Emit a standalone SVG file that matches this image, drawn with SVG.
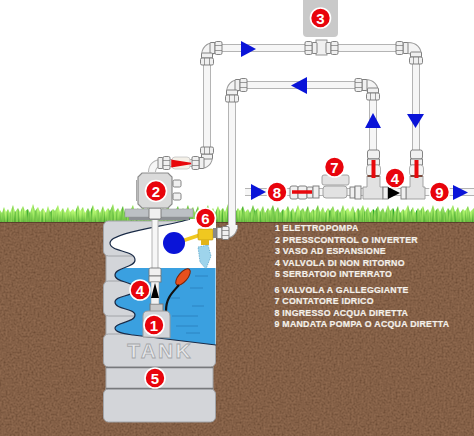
<svg xmlns="http://www.w3.org/2000/svg" width="474" height="436" viewBox="0 0 474 436">
<style>
.po{fill:none;stroke:#b4b4b4;stroke-width:8}
.pi{fill:none;stroke:#f6f6f6;stroke-width:6}
.thin{fill:none;stroke:#b4b4b4;stroke-width:7}
.thinIn{fill:none;stroke:#f6f6f6;stroke-width:5}
.elbow{fill:none;stroke:#9a9a9a;stroke-width:12}
.elbowIn{fill:none;stroke:#f4f4f4;stroke-width:10}
.arrow{fill:#0a14d8}
.badge circle{fill:#e8040c;stroke:#fff;stroke-width:1.6}
.badge text{font:bold 15px "Liberation Sans",Arial,sans-serif;fill:#fff;text-anchor:middle}
.nut{fill:#f0f0f0;stroke:#767676;stroke-width:.9}
.band{fill:#d3d5d9;stroke:#a2a4a8;stroke-width:1}
.legend text{font:bold 8.8px "Liberation Sans",Arial,sans-serif;fill:#f4f0ea;stroke:#f4f0ea;stroke-width:.2;letter-spacing:.25px}
.red{stroke:#e8080c;fill:none}
.body{fill:#e2e2e2;stroke:#9a9a9a;stroke-width:.9}
</style>
<defs>
<filter id="soilTex" x="0" y="0" width="100%" height="100%">
<feTurbulence type="fractalNoise" baseFrequency="0.5" numOctaves="3" seed="4"/>
<feColorMatrix values="0 0 0 .95 -.02  0 0 0 .62 -.02  0 0 0 .42 -.02  0 0 0 0 1"/>
</filter>
<filter id="grassTex" x="0" y="0" width="100%" height="100%">
<feTurbulence type="fractalNoise" baseFrequency="0.55 0.05" numOctaves="2" seed="9"/>
<feColorMatrix values="0 0 0 .9 -.12  0 0 0 1.1 .22  0 0 0 .3 -.02  0 0 0 0 1"/>
</filter>
<linearGradient id="grassFade" x1="0" y1="0" x2="0" y2="1">
<stop offset="0" stop-color="#b4e878" stop-opacity=".6"/>
<stop offset=".5" stop-color="#5cc02a" stop-opacity=".1"/>
<stop offset="1" stop-color="#2f8a16" stop-opacity=".45"/>
</linearGradient>
<clipPath id="bladeClip">
<path d="M0 224V210L2 213 4 207 6 212 8 209 10 213 13 205 15 212 18 208 20 212 23 206 25 211 28 209 30 213 33 204 35 211 38 207 40 212 43 208 46 213 48 206 50 212 53 209 55 211 58 205 60 212 63 208 65 213 68 207 70 212 73 209 75 212 78 205 80 211 83 207 85 213 88 208 90 212 93 205 95 211 98 209 100 213 103 206 105 212 108 208 110 211 113 204 115 212 118 208 120 212 123 206 125 213 128 209 130 211 133 205 135 212 138 208 140 213 143 206 145 211 148 208 150 212 153 205 155 211 158 207 160 213 163 208 165 212 168 205 170 212 173 209 175 211 178 206 180 213 183 208 185 212 188 205 190 211 193 207 195 213 198 206 200 212 203 208 205 211 208 205 210 212 213 208 215 213 218 206 220 211 223 208 225 212 228 204 230 212 233 207 235 213 238 208 240 211 243 206 245 212 248 209 250 213 253 205 255 211 258 208 260 212 263 206 265 213 268 208 270 211 273 205 275 212 278 207 280 213 283 209 285 211 288 206 290 212 293 208 295 213 298 205 300 211 303 208 305 212 308 206 310 213 313 209 315 211 318 205 320 212 323 207 325 213 328 208 330 211 333 206 335 212 338 209 340 213 343 205 345 211 348 208 350 212 353 206 355 213 358 208 360 211 363 205 365 212 368 207 370 213 373 209 375 211 378 206 380 212 383 208 385 213 388 205 390 211 393 208 395 212 398 206 400 213 403 209 405 211 408 205 410 212 413 207 415 213 418 208 420 211 423 206 425 212 428 209 430 213 433 205 435 211 438 208 440 212 443 206 445 213 448 208 450 211 453 205 455 212 458 207 460 213 463 209 465 211 468 206 470 212 474 208V224Z"/>
</clipPath>
<g id="nut">
<rect class="nut" x="-6" y="-5.500" width="5" height="11" rx="1"/>
<rect class="nut" x="-1" y="-6.500" width="7" height="13" rx="1.500"/>
<path d="M-1-2.500H6M-1 2.500H6" stroke="#767676" stroke-width=".7" fill="none"/>
</g>
<g id="handle">
<rect class="nut" x="-6" y="-8" width="12" height="9" rx="2"/>
<rect class="nut" x="-6" y="1" width="12" height="6"/>
<rect x="-7" y="7" width="14" height="11" rx="3" fill="#f3f3f3" stroke="#a0a0a0" stroke-width=".8"/>
<path d="M-6 18H6" stroke="#7a4a3c" stroke-width="2"/>
<path class="red" d="M0 2V20" stroke-width="4"/>
</g>
<path id="route" d="M152 172C152 166 156 163 162 163H200Q207 163 207 156V56Q207 48 215 48H408Q416 48 416 56V186M373 186V93Q373 85 365 85H240Q232 85 232 93V225Q232 233 224 233H213M245 192H474"/>
<path id="drop" d="M155 213V275"/>
<path id="elbows" d="M207 60V56Q207 48 215 48H219M404 48H408Q416 48 416 56V60M232 97V93Q232 85 240 85H244M361 85H365Q373 85 373 93V97M207 151V156Q207 163 200 163H196M232 229V225Q232 233 224 233"/>
</defs>

<!-- ground -->
<rect x="0" y="221" width="474" height="215" fill="#704a31"/>
<rect id="soil" x="0" y="221" width="474" height="215" filter="url(#soilTex)" opacity=".3"/>
<rect x="0" y="221" width="474" height="2" fill="#4a3322" opacity=".7"/>
<g clip-path="url(#bladeClip)">
<rect x="0" y="200" width="474" height="22" filter="url(#grassTex)"/>
<rect x="0" y="200" width="474" height="22" fill="url(#grassFade)"/>
</g>

<!-- tank -->
<g id="tank">
<rect class="band" x="106" y="255" width="107" height="28"/>
<rect class="band" x="106" y="314" width="107" height="21"/>
<rect class="band" x="106" y="367" width="107" height="23"/>
<rect class="band" x="103.500" y="221" width="112" height="35" rx="5"/>
<rect class="band" x="103.500" y="281" width="112" height="35" rx="5"/>
<rect class="band" x="103.500" y="334" width="112" height="33" rx="5"/>
<rect class="band" x="103.500" y="389" width="112" height="33" rx="5"/>
<path d="M106 367.500H213M106 388.500H213" stroke="#77797c" stroke-width="1.500"/>
<path d="M190 219C170 226 110 232 110 243C110 252 135 250 135 260C135 268 115 267 115 275C115 283 135 281 135 289C135 297 115 295 115 302C115 310 135 308 135 315C135 323 115 322 115 328C115 333 126 334 133 335L216 345V219Z" fill="#fff"/>
<path d="M115 275C115 272 119 270 124 268H215.500V345L133 335C126 334 115 333 115 328C115 322 135 323 135 315C135 308 115 310 115 302C115 295 135 297 135 289C135 281 115 283 115 275Z" fill="#3aa0e0"/>
<path d="M190 219C170 226 110 232 110 243C110 252 135 250 135 260C135 268 115 267 115 275C115 283 135 281 135 289C135 297 115 295 115 302C115 310 135 308 135 315C135 323 115 322 115 328C115 333 126 334 133 335L216 345" fill="none" stroke="#1a2b47" stroke-width="1.200"/>
<path d="M195 276H208M190 288H203M170 298H180M192 306H204M172 316H198M176 326H198M186 333H200" stroke="#2a7fbb" stroke-width=".8" fill="none"/>
<text x="160" y="358" font-family="Liberation Sans,Arial,sans-serif" font-weight="bold" font-size="21" letter-spacing="2.200" text-anchor="middle" fill="#e6e7e9" stroke="#a4a6a9" stroke-width=".8">TANK</text>
</g>

<!-- pipe runs -->
<g id="connectors">
<use href="#route" class="po"/>
<use href="#route" class="pi"/>
<use href="#drop" class="thin"/>
<use href="#drop" class="thinIn"/>
<use href="#elbows" class="elbow"/>
<use href="#elbows" class="elbowIn"/>
</g>

<!-- flow direction -->
<g id="flow-arrows">
<path class="arrow" d="M241 41L256 49 241 57Z"/>
<path class="arrow" d="M307 77V94L291 85.500Z"/>
<path class="arrow" d="M365 128L373 113 381 128Z"/>
<path class="arrow" d="M407 114H424L415.500 128Z"/>
<path class="arrow" d="M251 184L266 192 251 200Z"/>
<path class="arrow" d="M453 185L468 192.500 453 200Z"/>
</g>

<!-- fittings on the upper runs -->
<g id="fittings">
<use href="#nut" transform="translate(216 48)"/>
<use href="#nut" transform="translate(207 59) rotate(90)"/>
<use href="#nut" transform="translate(241 85)"/>
<use href="#nut" transform="translate(232 96) rotate(90)"/>
<use href="#nut" transform="translate(402 48) rotate(180)"/>
<use href="#nut" transform="translate(416 58) rotate(90)"/>
<use href="#nut" transform="translate(361 85) rotate(180)"/>
<use href="#nut" transform="translate(373 94) rotate(90)"/>
<use href="#nut" transform="translate(207 153) rotate(-90)"/>
<use href="#nut" transform="translate(198 163) rotate(180)"/>
<use href="#nut" transform="translate(164 163)"/>
</g>

<g id="valve-suction">
<rect x="172" y="157" width="18" height="12" rx="3" fill="#f4f0e8" stroke="#c4c4c4" stroke-width=".8"/>
<path d="M172 160.500L191 163.500 172 166.500Z" fill="#e8080c" stroke="#e8080c" stroke-width="1.500"/>
</g>

<g id="expansion-vessel">
<rect x="303" y="-4" width="35" height="41" rx="4" fill="#c9c9c9"/>
<rect x="316" y="40" width="11" height="15" fill="#f0f0f0" stroke="#8a8a8a" stroke-width=".9"/>
<use href="#nut" transform="translate(311 48) rotate(180)"/>
<use href="#nut" transform="translate(332 48)"/>
</g>

<g id="manifold">
<rect class="nut" x="290" y="186" width="8" height="13" rx="2"/>
<rect class="nut" x="298" y="186" width="9" height="13" rx="2"/>
<rect class="nut" x="307" y="187" width="6" height="11" rx="1"/>
<rect class="nut" x="313" y="186" width="6" height="12"/>
<path class="red" d="M292 192H312" stroke-width="3.500"/>
<rect class="body" x="323" y="186" width="24" height="12" rx="3"/>
<rect class="body" x="322" y="175" width="27" height="10" rx="2"/>
<rect x="350" y="187" width="5" height="11" class="nut"/>
<rect x="355" y="186" width="6" height="13" class="nut"/>
<path class="body" d="M363 187H367V176H380V187H383V199H363Z"/>
<path class="body" d="M406 187H410V176H423V187H425V199H406Z"/>
<rect x="383" y="187" width="5" height="12" class="nut"/>
<rect x="401" y="187" width="5" height="12" class="nut"/>
<path d="M388 187L400 193 388 199Z" fill="#000"/>
<use href="#handle" transform="translate(373.500 158)"/>
<use href="#handle" transform="translate(416.500 158)"/>
</g>

<!-- press control on the tank lid -->
<g id="lid">
<rect x="125" y="209" width="68" height="8" fill="#bcc0c4" stroke="#9a9da0" stroke-width=".6"/>
<rect x="129" y="217" width="60" height="3" fill="#8d9094"/>
<rect class="nut" x="149" y="208" width="12" height="11" rx="1.500"/>
</g>
<g id="press-control">
<path d="M142 173H168L172 177V204L168 208H142L138 204V177Z" fill="#dadada" stroke="#8b8b8b" stroke-width="1.200"/>
<path d="M136.500 180V201" stroke="#a8a8a8" stroke-width="1"/>
<rect class="nut" x="173" y="180" width="8" height="7" rx="1.500"/>
<rect class="nut" x="173" y="193" width="8" height="7" rx="1.500"/>
</g>

<!-- submersible pump with float switch -->
<g id="pump">
<ellipse cx="183" cy="277" rx="10" ry="4.500" transform="rotate(-50 183 277)" fill="#e8501c" stroke="#7a2408"/>
<path d="M166 311C166 298 172 293 179 285" fill="none" stroke="#111" stroke-width="2.200"/>
<rect x="150" y="304" width="13" height="8" fill="#c8c8c8" stroke="#777"/>
<path d="M143 337V316Q143 311 148 311H165Q170 311 170 316V338Z" fill="#d3d5d9" stroke="#9a9a9a"/>
<rect class="nut" x="149" y="268" width="12" height="8" rx="1.500"/>
<rect class="nut" x="149" y="276" width="12" height="6"/>
<rect x="151" y="282" width="8" height="22" fill="#f2f2f2" stroke="#999" stroke-width=".6"/>
<path d="M155 283L159 298H151Z" fill="#000"/>
</g>

<!-- float valve -->
<g id="float-valve">
<path d="M176 243L200 235" stroke="#f0c820" stroke-width="3.500" fill="none"/>
<circle cx="174" cy="243" r="11" fill="#0a14d8"/>
<rect x="198" y="229" width="15" height="11" rx="1" fill="#f0c820" stroke="#b8900c" stroke-width=".6"/>
<rect x="201" y="240" width="8" height="5" fill="#e3b418"/>
<path d="M198 247L208 245 211 256 206 269 200 262Z" fill="#9ed4ec" stroke="#3d93bd" stroke-width=".6" stroke-dasharray="1.500 1"/>
<rect x="213" y="228" width="4" height="10" fill="#888"/>
<use href="#nut" transform="translate(223 233)"/>
</g>

<!-- numbered badges -->
<g id="b1" class="badge"><circle cx="154" cy="325" r="10"/><text x="154" y="330.500">1</text></g>
<g id="b2" class="badge"><circle cx="156" cy="191" r="10.500"/><text x="156" y="196.500">2</text></g>
<g id="b3" class="badge"><circle cx="320.500" cy="18" r="10"/><text x="320.500" y="23.500">3</text></g>
<g id="b4a" class="badge"><circle cx="395" cy="178" r="10"/><text x="395" y="183.500">4</text></g>
<g id="b4b" class="badge"><circle cx="140" cy="290" r="10"/><text x="140" y="295.500">4</text></g>
<g id="b5" class="badge"><circle cx="155" cy="378" r="10"/><text x="155" y="383.500">5</text></g>
<g id="b6" class="badge"><circle cx="205.500" cy="218" r="10"/><text x="205.500" y="223.500">6</text></g>
<g id="b7" class="badge"><circle cx="334.500" cy="167" r="10"/><text x="334.500" y="172.500">7</text></g>
<g id="b8" class="badge"><circle cx="277" cy="192" r="10"/><text x="277" y="197.500">8</text></g>
<g id="b9" class="badge"><circle cx="439.500" cy="192" r="10"/><text x="439.500" y="197.500">9</text></g>

<g id="legend" class="legend">
<text x="275" y="231">1 ELETTROPOMPA</text>
<text x="275" y="242.500">2 PRESSCONTROL O INVERTER</text>
<text x="275" y="254">3 VASO AD ESPANSIONE</text>
<text x="275" y="265.500">4 VALVOLA DI NON RITORNO</text>
<text x="275" y="277">5 SERBATOIO INTERRATO</text>
<text x="274.500" y="292.500">6 VALVOLA A GALLEGGIANTE</text>
<text x="274.500" y="304">7 CONTATORE IDRICO</text>
<text x="274.500" y="315.500">8 INGRESSO ACQUA DIRETTA</text>
<text x="274.500" y="327">9 MANDATA POMPA O ACQUA DIRETTA</text>
</g>
</svg>
